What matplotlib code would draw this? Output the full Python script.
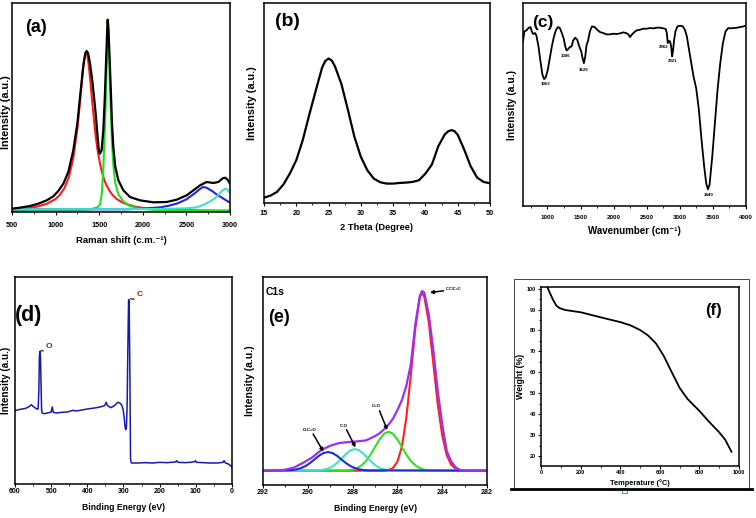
import matplotlib
matplotlib.use("Agg")
import matplotlib.pyplot as plt
from matplotlib.ticker import MultipleLocator
from matplotlib.patches import Rectangle
from matplotlib.lines import Line2D

plt.rcParams["font.family"] = ["Liberation Sans", "DejaVu Sans"]
plt.rcParams["font.weight"] = "bold"
plt.rcParams["axes.labelweight"] = "bold"

W, H = 756, 518

# (a) Raman spectrum and fitted bands
raman_x = [500, 592, 706, 802, 898, 974, 1031, 1089, 1146, 1203, 1249, 1288, 1318, 1341, 1356,
           1372, 1395, 1425, 1456, 1479, 1494, 1509, 1528, 1547, 1563, 1578, 1590, 1597, 1605, 1616,
           1632, 1647, 1662, 1685, 1720, 1777, 1853, 1968, 2121, 2274, 2389, 2503, 2580, 2656, 2733,
           2809, 2866, 2916, 2943, 2970, 3000]
raman_total = [10, 13, 18, 25, 35, 47, 63, 85, 120, 185, 265, 365, 440, 477, 483,
               477, 445, 385, 305, 235, 190, 175, 185, 245, 335, 445, 535, 577, 555, 485,
               375, 265, 195, 135, 95, 65, 45, 35, 29, 30, 37, 50, 65, 80, 90,
               87, 90, 101, 103, 98, 85]
raman_d_x = [500, 600, 700, 800, 900, 1000, 1050, 1100, 1150, 1200, 1250, 1280, 1300, 1320, 1340,
             1352, 1365, 1380, 1400, 1420, 1440, 1460, 1480, 1500, 1520, 1540, 1560, 1580, 1600, 1620,
             1650, 1680, 1700, 1750, 1800, 1900, 2000, 2100, 2200, 2400, 2600, 3000]
raman_d = [7, 9, 12, 17, 25, 39, 52, 71, 103, 157, 250, 330, 389, 441, 473,
           477, 468, 441, 389, 330, 277, 227, 188, 157, 132, 112, 95, 82, 72, 63,
           52, 44, 39, 31, 25, 17, 12, 9, 7, 6, 5, 4]
raman_g_x = [500, 1200, 1400, 1480, 1510, 1530, 1547, 1563, 1578, 1590, 1597, 1605, 1616, 1632,
             1647, 1662, 1685, 1720, 1777, 1850, 1970, 2200, 2600, 3000]
raman_g = [3, 4, 8, 14, 22, 55, 128, 235, 355, 480, 570, 545, 440, 312,
           208, 141, 86, 53, 32, 18, 10, 5, 3, 3]
raman_2d_x = [500, 1800, 2000, 2200, 2300, 2400, 2500, 2600, 2650, 2690, 2730, 2800, 2850, 2900, 2950, 3000]
raman_2d = [8, 8, 10, 14, 19, 26, 38, 57, 68, 75, 73, 62, 52, 44, 36, 28]
raman_dg_x = [500, 2200, 2500, 2620, 2700, 2760, 2810, 2850, 2886, 2920, 2950, 2975, 3000]
raman_dg = [8, 9, 11, 14, 22, 30, 38, 47, 57, 66, 70, 66, 57]

# (b) XRD
xrd_x = [15, 16, 17, 18, 19, 20, 21, 22, 23, 24, 24.5, 25, 25.5, 26, 27, 28, 29, 30, 31, 32,
         33, 34, 35, 36, 37, 38, 39, 40, 41, 42, 43, 43.5, 44, 44.5, 45, 46, 47, 48, 49, 50]
xrd_y = [16, 22, 33, 55, 88, 128, 188, 263, 335, 405, 425, 432, 426, 408, 355, 278, 198, 138, 98, 73,
         62, 58, 58, 60, 61, 63, 68, 88, 115, 170, 205, 214, 218, 215, 204, 160, 110, 76, 63, 59]

# (c) FTIR
ftir_x = [630, 651, 682, 712, 742, 763, 783, 813, 833, 864, 894, 924, 950, 975, 1005, 1035, 1066,
          1096, 1126, 1157, 1187, 1217, 1247, 1268, 1288, 1313, 1338, 1364, 1389, 1419, 1449, 1480,
          1510, 1530, 1550, 1571, 1591, 1611, 1641, 1672, 1712, 1752, 1793, 1843, 1894, 1944, 1995,
          2045, 2096, 2146, 2187, 2222, 2247, 2273, 2308, 2348, 2399, 2449, 2500, 2550, 2601, 2651,
          2702, 2752, 2788, 2803, 2818, 2838, 2853, 2869, 2884, 2899, 2914, 2934, 2964, 3005, 3045,
          3076, 3106, 3156, 3207, 3247, 3288, 3328, 3368, 3399, 3424, 3449, 3490, 3530, 3570, 3611,
          3651, 3691, 3732, 3762, 3813, 3863, 3914, 3964, 4000]
ftir_y = [493, 523, 526, 533, 536, 523, 515, 518, 510, 478, 433, 393, 380, 386, 408, 443, 478,
          506, 526, 536, 533, 518, 500, 478, 466, 470, 476, 478, 496, 504, 498, 478,
          463, 443, 428, 448, 483, 493, 523, 538, 536, 528, 521, 518, 514, 514, 516,
          515, 517, 520, 518, 514, 506, 513, 520, 526, 528, 531, 531, 533, 532, 534,
          534, 532, 530, 518, 488, 494, 493, 478, 448, 468, 498, 523, 538, 540, 538,
          528, 508, 448, 388, 353, 288, 198, 118, 68, 50, 63, 148, 248, 348, 428,
          488, 523, 533, 532, 533, 534, 536, 538, 541]
ftir_peaks = ["1063", "1386", "1629", "2862", "2921", "3440"]
ftir_peak_x = [970, 1278, 1550, 2752, 2894, 3434]
ftir_peak_y = [365, 450, 406, 475, 433, 33]

# (d) XPS survey
xps_x = [600, 590, 580, 570, 560, 555, 550, 540, 536, 534, 532.5, 531, 529.5, 528, 526.5, 525, 520,
         510, 500, 497, 494, 485, 470, 455, 440, 430, 420, 400, 380, 365, 352, 348, 344, 335, 325,
         316, 310, 305, 301, 298, 296, 294, 292, 290, 288, 286, 284.5, 282.5, 280.5, 278, 260, 240,
         220, 200, 180, 156, 153, 150, 130, 115, 103, 101, 98, 80, 60, 40, 25, 22, 18, 10, 5, 0]
xps_y = [220, 223, 225, 227, 233, 238, 233, 225, 225, 283, 383, 398, 383, 300, 223, 213, 211,
         213, 216, 231, 215, 213, 215, 216, 221, 219, 221, 225, 228, 231, 235, 245, 235, 229, 235,
         245, 243, 237, 223, 198, 173, 163, 168, 233, 403, 551, 553, 353, 73, 63, 63, 64,
         63, 65, 64, 66, 70, 65, 64, 65, 67, 70, 65, 64, 63, 63, 65, 70, 63, 60, 56, 51]

# (e) C1s high resolution
c1s_x = [292, 291.4, 291.0, 290.6, 290.2, 289.8, 289.4, 289.0, 288.6, 288.2, 287.8, 287.4, 287.0,
         286.8, 286.6, 286.4, 286.2, 286.0, 285.8, 285.6, 285.4, 285.2, 285.0, 284.9, 284.8, 284.6,
         284.4, 284.2, 284.0, 283.8, 283.6, 283.4, 283.2, 283.0, 282]
c1s_env = [0, 0, 3, 10, 24, 40, 62, 75, 83, 86, 88, 91, 104,
           112, 124, 138, 156, 182, 212, 255, 320, 440, 525, 540, 535, 470,
           365, 240, 140, 60, 28, 10, 2, 0, 0]
cc_x = [292, 286.6, 286.4, 286.2, 286.0, 285.8, 285.6, 285.4, 285.2, 285.0, 284.9, 284.8, 284.6,
        284.4, 284.2, 284.0, 283.8, 283.6, 283.4, 283.2, 283.0, 282]
cc_y = [0, 0, 2, 8, 27, 72, 159, 288, 428, 521, 534, 523, 446, 324, 200, 106, 47, 18, 6, 2, 0, 0]
co_dbl_x = [292, 288.2, 288.0, 287.8, 287.6, 287.4, 287.2, 287.0, 286.8, 286.6, 286.4, 286.2, 286.0,
            285.8, 285.6, 285.4, 285.2, 285.0, 284.8, 284.6, 282]
co_dbl_y = [0, 1, 3, 8, 16, 29, 48, 71, 94, 111, 117, 111, 94, 71, 48, 29, 16, 8, 3, 1, 0]
co_x = [292, 289.5, 289.3, 289.1, 288.9, 288.7, 288.5, 288.3, 288.1, 287.9, 287.7, 287.5, 287.3,
        287.1, 286.9, 286.7, 286.5, 286.3, 282]
co_y = [0, 1, 3, 6, 12, 23, 36, 50, 61, 65, 61, 50, 36, 23, 12, 6, 3, 1, 0]
oco_x = [292, 290.9, 290.7, 290.5, 290.3, 290.1, 289.9, 289.7, 289.5, 289.3, 289.1, 288.9, 288.7,
         288.5, 288.3, 288.1, 287.9, 287.7, 287.5, 287.3, 282]
oco_y = [0, 1, 2, 4, 8, 14, 23, 34, 45, 53, 56, 53, 45, 34, 23, 14, 8, 4, 2, 1, 0]

# (f) TGA
tga_t = [31, 45, 60, 75, 90, 120, 200, 300, 400, 450, 500, 540, 580, 620, 660, 700, 740, 800,
         850, 900, 930, 962]
tga_w = [100.5, 97.5, 94.5, 92.0, 90.8, 89.8, 88.7, 86.3, 84.0, 82.5, 80.2, 77.6, 73.8, 67.7,
         60.0, 52.5, 47.2, 41.5, 36.2, 31.3, 27.8, 22.0]


def box(left, top, right, bottom):
    return fig.add_axes([left / W, 1 - bottom / H, (right - left) / W, (bottom - top) / H])


def style(ax, major, minor, tsize, pad, length=2.5, hide_y=True):
    for s in ax.spines.values():
        s.set_linewidth(1.1)
    ax.xaxis.set_major_locator(MultipleLocator(major))
    ax.xaxis.set_minor_locator(MultipleLocator(minor))
    ax.tick_params(axis="x", which="major", direction="out", length=length, width=0.8,
                   labelsize=tsize, pad=pad)
    ax.tick_params(axis="x", which="minor", direction="out", length=length * 0.6, width=0.6)
    for lab in ax.get_xticklabels():
        lab.set_fontweight("bold")
    if hide_y:
        ax.set_yticks([])


def label(x, y, s, size):
    fig.text(x / W, 1 - y / H, s, fontsize=size, fontweight="bold", ha="center", va="center")


fig = plt.figure(figsize=(7.56, 5.18), dpi=100)

# (a)
ax = box(12, 3, 230, 212)
ax.plot(raman_d_x, raman_d, color="#ff1a1a", lw=1.5)
ax.plot(raman_g_x, raman_g, color="#22dd22", lw=1.5)
ax.plot(raman_2d_x, raman_2d, color="#2424e0", lw=1.5)
ax.plot(raman_dg_x, raman_dg, color="#3fe0c5", lw=1.5)
ax.plot(raman_x, raman_total, color="black", lw=1.6)
ax.set(xlim=(500, 3000), ylim=(0, 627))
style(ax, 500, 250, 5.2, 5.0)
ax.set_xlabel("Raman shift (c.m.\u207b\u00b9)", fontsize=6.8)
ax.xaxis.set_label_coords(0.5, -0.115)
ax.set_ylabel("Intensity (a.u.)", fontsize=7.8)
ax.yaxis.set_label_coords(-0.003, 0.48)
label(36, 28, "(a)", 13)

# (b)
ax = box(264, 3, 490, 203)
ax.plot(xrd_x, xrd_y, color="black", lw=1.6)
ax.set(xlim=(15, 50), ylim=(0, 598))
style(ax, 5, 2.5, 5.2, 2.5)
ax.set_xlabel("2 Theta (Degree)", fontsize=6.7)
ax.xaxis.set_label_coords(0.5, -0.1)
ax.set_ylabel("Intensity (a.u.)", fontsize=7.8)
ax.yaxis.set_label_coords(-0.03, 0.5)
label(287, 22, "(b)", 14)

# (c)
ax = box(523, 3, 746, 206)
ax.plot(ftir_x, ftir_y, color="black", lw=1.3)
ax.set(xlim=(630, 4000), ylim=(0, 608))
style(ax, 500, 250, 4.5, 4.0)
for s, px, py in zip(ftir_peaks, ftir_peak_x, ftir_peak_y):
    ax.text(px, py, s, fontsize=3.2, fontweight="bold", ha="center", va="center")
ax.set_xlabel("Wavenumber (cm\u207b\u00b9)", fontsize=7)
ax.xaxis.set_label_coords(0.5, -0.0985)
ax.set_ylabel("Intensity (a.u.)", fontsize=7.4)
ax.yaxis.set_label_coords(-0.027, 0.5)
label(543, 23, "(c)", 12.5)

# (d)
ax = box(15, 277, 232, 484)
ax.plot(xps_x, xps_y, color="#1a1aaa", lw=1.1)
ax.set(xlim=(600, 0), ylim=(0, 621))
style(ax, 100, 50, 5, 1.2, length=2)
ax.annotate("C", xy=(281, 556), xytext=(254, 568), color="#8b1a1a", fontsize=6,
            fontweight="bold", ha="center", va="center",
            arrowprops=dict(arrowstyle="-", color="black", lw=0.8, shrinkA=3, shrinkB=0,
                            connectionstyle="arc3,rad=-0.4"))
ax.annotate("O", xy=(528, 400), xytext=(505, 413), color="#8b1a1a", fontsize=6,
            fontweight="bold", ha="center", va="center",
            arrowprops=dict(arrowstyle="-", color="black", lw=0.8, shrinkA=3, shrinkB=0,
                            connectionstyle="arc3,rad=-0.4"))
ax.set_xlabel("Binding Energy (eV)", fontsize=6.2)
ax.xaxis.set_label_coords(0.5, -0.092)
ax.set_ylabel("Intensity (a.u.)", fontsize=7.1)
ax.yaxis.set_label_coords(-0.02, 0.5)
label(29, 315, "(d)", 15.5)

# (e)
ax = box(263, 277, 487, 485)
ax.plot(cc_x, cc_y, color="#ff2020", lw=1.5)
ax.plot(co_dbl_x, co_dbl_y, color="#33dd22", lw=1.5)
ax.plot(co_x, co_y, color="#40e0cc", lw=1.5)
ax.plot(oco_x, oco_y, color="#1a30d0", lw=1.5)
ax.plot(c1s_x, c1s_env, color="#9b30f5", lw=1.6)
ax.set(xlim=(292, 282), ylim=(-43, 582))
style(ax, 2, 1, 5, 1.2, length=2)
arrow = dict(arrowstyle="-|>", color="black", lw=1.1, mutation_scale=5, shrinkA=0, shrinkB=0)
ax.annotate("C-C/C=C", xy=(284.55, 535), xytext=(283.47, 545), fontsize=2.8,
            fontweight="bold", ha="center", va="center", arrowprops=arrow)
ax.annotate("", xy=(286.45, 122), xytext=(286.8, 180), arrowprops=arrow)
ax.text(286.96, 194, "C=O", fontsize=3.2, fontweight="bold", ha="center", va="center")
ax.annotate("", xy=(287.87, 70), xytext=(288.27, 123), arrowprops=arrow)
ax.text(288.41, 135, "C-O", fontsize=3.2, fontweight="bold", ha="center", va="center")
ax.annotate("", xy=(289.3, 57), xytext=(289.76, 110), arrowprops=arrow)
ax.text(289.92, 122, "O-C=O", fontsize=3.2, fontweight="bold", ha="center", va="center")
ax.set_xlabel("Binding Energy (eV)", fontsize=6.2)
ax.xaxis.set_label_coords(0.5, -0.091)
ax.set_ylabel("Intensity (a.u.)", fontsize=7.5)
ax.yaxis.set_label_coords(-0.036, 0.5)
label(275, 292, "C1s", 7.5)
label(279, 317, "(e)", 13)

# (f)
ax = box(541, 287, 739, 466)
ax.plot(tga_t, tga_w, color="black", lw=1.3)
ax.set(xlim=(-2, 1000), ylim=(15.2, 100.8))
style(ax, 200, 100, 4, 1.2, length=2, hide_y=False)
ax.yaxis.set_major_locator(MultipleLocator(10))
ax.yaxis.set_minor_locator(MultipleLocator(5))
ax.set_yticks(range(20, 101, 10))
ax.tick_params(axis="y", which="major", direction="out", length=2, width=0.8, labelsize=4, pad=1.5)
ax.tick_params(axis="y", which="minor", direction="out", length=1.2, width=0.6)
for lab in ax.get_yticklabels():
    lab.set_fontweight("bold")
ax.set_xlabel("Temperature (\u00b0C)", fontsize=5.3)
ax.xaxis.set_label_coords(0.5, -0.073)
ax.set_ylabel("Weight (%)", fontsize=6.3)
ax.yaxis.set_label_coords(-0.081, 0.5)
label(713, 311, "(f)", 12)

fig.add_artist(Rectangle((514 / W, 1 - 489 / H), 235 / W, 210 / H, transform=fig.transFigure,
                         fill=False, edgecolor="#444444", lw=0.7))
fig.add_artist(Line2D([511 / W, 752 / W], [1 - 489 / H, 1 - 489 / H], transform=fig.transFigure,
                      color="black", lw=2))
fig.add_artist(Rectangle((622 / W, 1 - 493 / H), 5 / W, 5 / H, transform=fig.transFigure,
                         facecolor="white", edgecolor="#3aa0d8", lw=0.8))

fig.savefig("out.png", dpi=100)
